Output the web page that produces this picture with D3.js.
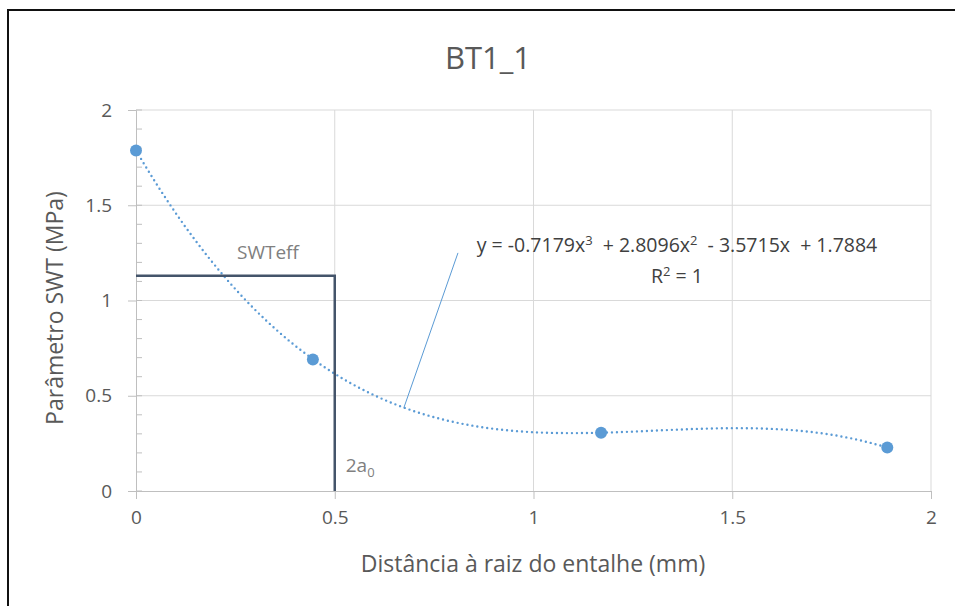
<!DOCTYPE html>
<html lang="pt">
<head>
<meta charset="UTF-8">
<title>BT1_1</title>
<script src="https://d3js.org/d3.v7.min.js"></script>
<style>
  body { margin: 0; background: #fff; overflow: hidden; }
  svg text { font-family: "Open Sans", "Noto Sans", sans-serif; fill: #595959; }
</style>
</head>
<body>
<svg id="chart" width="955" height="606"></svg>
<script>
// data
const distance = [0, 0.445, 1.17, 1.89];        // mm
const swt = [1.788, 0.69, 0.306, 0.228];         // MPa
const trendCoef = [-0.7179, 2.8096, -3.5715, 1.7884]; // x^3, x^2, x, 1 (as printed)
const xTicks = [0, 0.5, 1, 1.5, 2];
const yTicks = [0, 0.5, 1, 1.5, 2];
const yMinor = d3.range(0, 2.0001, 0.1);
const swtEff = 1.13;
const twoA0 = 0.5;
const leaderFrom = [0.81, 1.25];
const leaderToX = 0.674;

const svg = d3.select("#chart");
const plotLeft = 136, plotRight = 931, plotTop = 110, plotBottom = 491;

const x = d3.scaleLinear().domain([0, 2]).range([plotLeft, plotRight]);
const y = d3.scaleLinear().domain([0, 2]).range([plotBottom, plotTop]);

const poly = t => trendCoef[0] * t * t * t + trendCoef[1] * t * t + trendCoef[2] * t + trendCoef[3];

// frame (only top and left edges visible in the picture)
svg.append("path")
    .attr("d", "M8,606 L8,10 L955,10")
    .attr("fill", "none")
    .attr("stroke", "#111")
    .attr("stroke-width", 2);

// title
svg.append("text")
    .attr("x", 488).attr("y", 69)
    .attr("text-anchor", "middle")
    .style("font-size", "31px")
    .text("BT1_1");

// grid
svg.append("g").selectAll("line")
    .data(yTicks.filter(d => d > 0))
  .join("line")
    .attr("x1", plotLeft).attr("x2", plotRight)
    .attr("y1", d => y(d)).attr("y2", d => y(d))
    .attr("stroke", "#d9d9d9");

svg.append("g").selectAll("line")
    .data(xTicks.filter(d => d > 0))
  .join("line")
    .attr("x1", d => x(d)).attr("x2", d => x(d))
    .attr("y1", plotTop).attr("y2", plotBottom)
    .attr("stroke", "#d9d9d9");

// x axis
const xAxis = svg.append("g")
    .attr("transform", `translate(0,${plotBottom})`)
    .call(d3.axisBottom(x).tickValues(xTicks).tickFormat(d3.format("")).tickSize(8).tickPadding(12));
xAxis.select(".domain").attr("stroke", "#bfbfbf");
xAxis.selectAll(".tick line").attr("stroke", "#bfbfbf");
xAxis.selectAll("text").style("font-size", "19px").attr("fill", "#595959");

// y axis
const yAxis = svg.append("g")
    .attr("transform", `translate(${plotLeft},0)`)
    .call(d3.axisLeft(y).tickValues(yTicks).tickFormat(d3.format("")).tickSize(8).tickPadding(16));
yAxis.select(".domain").attr("stroke", "#bfbfbf");
yAxis.selectAll(".tick line").attr("stroke", "#bfbfbf");
yAxis.selectAll("text").style("font-size", "19px").attr("fill", "#595959");

// minor ticks inside the y axis
svg.append("g").selectAll("line")
    .data(yMinor)
  .join("line")
    .attr("x1", plotLeft).attr("x2", plotLeft + 6)
    .attr("y1", d => y(d)).attr("y2", d => y(d))
    .attr("stroke", "#bfbfbf");

// axis titles
svg.append("text")
    .attr("x", 533).attr("y", 572)
    .attr("text-anchor", "middle")
    .style("font-size", "23px")
    .text("Distância à raiz do entalhe (mm)");

svg.append("text")
    .attr("transform", "translate(63,308) rotate(-90)")
    .attr("text-anchor", "middle")
    .style("font-size", "23px")
    .text("Parâmetro SWT (MPa)");

// trendline (cubic, coefficients printed on the chart)
const tx = d3.range(0, distance[distance.length - 1] + 0.0001, 0.01);
svg.append("path")
    .datum(tx)
    .attr("d", d3.line().x(d => x(d)).y(d => y(poly(d))))
    .attr("fill", "none")
    .attr("stroke", "#5b9bd5")
    .attr("stroke-width", 2.4)
    .attr("stroke-linecap", "round")
    .attr("stroke-dasharray", "0 5");

// SWTeff construction lines
svg.append("path")
    .attr("d", `M${x(0)},${y(swtEff)} L${x(twoA0)},${y(swtEff)} L${x(twoA0)},${y(0)}`)
    .attr("fill", "none")
    .attr("stroke", "#44546a")
    .attr("stroke-width", 2.5);

svg.append("text")
    .attr("x", 237).attr("y", 259)
    .style("font-size", "19px")
    .style("fill", "#808080")
    .text("SWTeff");

const a0 = svg.append("text")
    .attr("x", x(twoA0) + 11).attr("y", 472)
    .style("font-size", "19px")
    .style("fill", "#808080");
a0.append("tspan").text("2a");
a0.append("tspan").attr("dy", 5).style("font-size", "13px").text("0");

// markers
svg.append("g").selectAll("circle")
    .data(distance)
  .join("circle")
    .attr("cx", d => x(d))
    .attr("cy", (d, i) => y(swt[i]))
    .attr("r", 6)
    .attr("fill", "#5b9bd5");

// equation label with leader line
svg.append("line")
    .attr("x1", x(leaderFrom[0])).attr("y1", y(leaderFrom[1]))
    .attr("x2", x(leaderToX)).attr("y2", y(poly(leaderToX)))
    .attr("stroke", "#5b9bd5")
    .attr("stroke-width", 1);

const eq = svg.append("text")
    .attr("x", 677).attr("y", 252)
    .attr("text-anchor", "middle")
    .style("font-size", "19.5px")
    .style("fill", "#404040")
    .style("white-space", "pre");
eq.append("tspan").text("y = " + trendCoef[0].toFixed(4) + "x");
eq.append("tspan").attr("dy", -7).style("font-size", "13px").text("3");
eq.append("tspan").attr("dy", 7).text("  + " + trendCoef[1].toFixed(4) + "x");
eq.append("tspan").attr("dy", -7).style("font-size", "13px").text("2");
eq.append("tspan").attr("dy", 7).text("  - " + Math.abs(trendCoef[2]).toFixed(4) + "x  + " + trendCoef[3].toFixed(4));

const r2 = svg.append("text")
    .attr("x", 677).attr("y", 283)
    .attr("text-anchor", "middle")
    .style("font-size", "19.5px")
    .style("fill", "#404040");
r2.append("tspan").text("R");
r2.append("tspan").attr("dy", -7).style("font-size", "13px").text("2");
r2.append("tspan").attr("dy", 7).text(" = 1");
</script>
</body>
</html>
